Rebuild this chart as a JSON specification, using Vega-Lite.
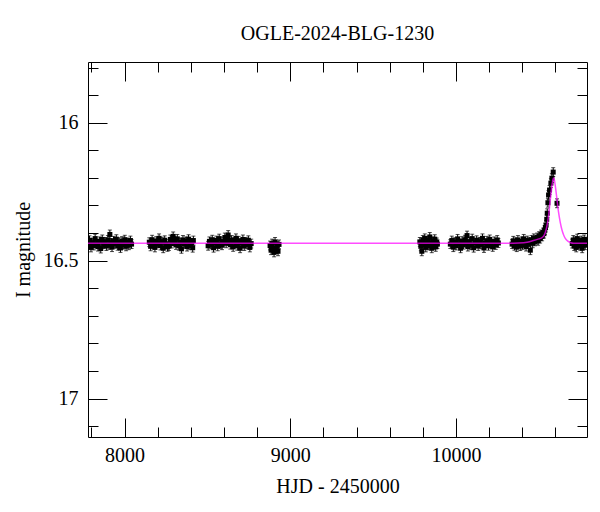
{
  "$schema": "https://vega.github.io/schema/vega-lite/v6.json",
  "autosize": {"type": "none"},
  "width": 499,
  "height": 375,
  "padding": {"left": 88, "top": 62, "right": 13, "bottom": 75},
  "background": "white",
  "title": {
    "text": "OGLE-2024-BLG-1230",
    "font": "Liberation Serif",
    "fontSize": 20,
    "fontWeight": "normal",
    "color": "black",
    "anchor": "middle",
    "baseline": "alphabetic",
    "offset": -2
  },
  "config": {
    "view": {"stroke": "black", "strokeWidth": 1},
    "axis": {
      "grid": false,
      "domain": false,
      "labelFont": "Liberation Serif",
      "labelFontSize": 20,
      "labelColor": "black",
      "titleFont": "Liberation Serif",
      "titleFontSize": 20,
      "titleFontWeight": "normal",
      "titleColor": "black",
      "tickColor": "black",
      "tickWidth": 1,
      "labelOverlap": false,
      "labelFlush": false,
      "labelBound": false
    }
  },
  "datasets": {
    "obs": [
      {"t": 7780, "m": 16.441, "e": 0.016}, {"t": 7788, "m": 16.426, "e": 0.016}, {"t": 7797, "m": 16.452, "e": 0.016},
      {"t": 7805, "m": 16.435, "e": 0.016}, {"t": 7814, "m": 16.445, "e": 0.016}, {"t": 7822, "m": 16.420, "e": 0.016},
      {"t": 7831, "m": 16.438, "e": 0.016}, {"t": 7839, "m": 16.449, "e": 0.016}, {"t": 7848, "m": 16.430, "e": 0.016},
      {"t": 7856, "m": 16.456, "e": 0.016}, {"t": 7865, "m": 16.423, "e": 0.016}, {"t": 7873, "m": 16.440, "e": 0.016},
      {"t": 7882, "m": 16.432, "e": 0.016}, {"t": 7890, "m": 16.447, "e": 0.016}, {"t": 7899, "m": 16.425, "e": 0.016},
      {"t": 7907, "m": 16.443, "e": 0.016}, {"t": 7911, "m": 16.405, "e": 0.016}, {"t": 7916, "m": 16.436, "e": 0.016},
      {"t": 7924, "m": 16.451, "e": 0.016}, {"t": 7933, "m": 16.428, "e": 0.016}, {"t": 7941, "m": 16.439, "e": 0.016},
      {"t": 7950, "m": 16.422, "e": 0.016}, {"t": 7958, "m": 16.446, "e": 0.016}, {"t": 7967, "m": 16.433, "e": 0.016},
      {"t": 7975, "m": 16.454, "e": 0.016}, {"t": 7984, "m": 16.429, "e": 0.016}, {"t": 7992, "m": 16.442, "e": 0.016},
      {"t": 8001, "m": 16.424, "e": 0.016}, {"t": 8009, "m": 16.448, "e": 0.016}, {"t": 8018, "m": 16.434, "e": 0.016},
      {"t": 8026, "m": 16.444, "e": 0.016}, {"t": 8035, "m": 16.427, "e": 0.016}, {"t": 8042, "m": 16.440, "e": 0.016},

      {"t": 8149, "m": 16.433, "e": 0.016}, {"t": 8157, "m": 16.448, "e": 0.016}, {"t": 8166, "m": 16.424, "e": 0.016},
      {"t": 8174, "m": 16.441, "e": 0.016}, {"t": 8183, "m": 16.452, "e": 0.016}, {"t": 8191, "m": 16.429, "e": 0.016},
      {"t": 8199, "m": 16.437, "e": 0.016}, {"t": 8208, "m": 16.419, "e": 0.016}, {"t": 8216, "m": 16.445, "e": 0.016},
      {"t": 8225, "m": 16.431, "e": 0.016}, {"t": 8233, "m": 16.455, "e": 0.016}, {"t": 8242, "m": 16.426, "e": 0.016},
      {"t": 8250, "m": 16.440, "e": 0.016}, {"t": 8259, "m": 16.450, "e": 0.016}, {"t": 8267, "m": 16.447, "e": 0.016},
      {"t": 8276, "m": 16.423, "e": 0.016}, {"t": 8284, "m": 16.438, "e": 0.016}, {"t": 8293, "m": 16.412, "e": 0.016},
      {"t": 8301, "m": 16.428, "e": 0.016}, {"t": 8310, "m": 16.443, "e": 0.016}, {"t": 8318, "m": 16.421, "e": 0.016},
      {"t": 8327, "m": 16.446, "e": 0.016}, {"t": 8335, "m": 16.434, "e": 0.016}, {"t": 8343, "m": 16.457, "e": 0.016},
      {"t": 8352, "m": 16.425, "e": 0.016}, {"t": 8360, "m": 16.439, "e": 0.016}, {"t": 8369, "m": 16.430, "e": 0.016},
      {"t": 8377, "m": 16.449, "e": 0.016}, {"t": 8386, "m": 16.422, "e": 0.016}, {"t": 8394, "m": 16.444, "e": 0.016},
      {"t": 8403, "m": 16.436, "e": 0.016}, {"t": 8411, "m": 16.453, "e": 0.016}, {"t": 8415, "m": 16.427, "e": 0.016},

      {"t": 8504, "m": 16.446, "e": 0.016}, {"t": 8512, "m": 16.430, "e": 0.016}, {"t": 8520, "m": 16.441, "e": 0.016},
      {"t": 8529, "m": 16.424, "e": 0.016}, {"t": 8537, "m": 16.453, "e": 0.016}, {"t": 8546, "m": 16.435, "e": 0.016},
      {"t": 8554, "m": 16.427, "e": 0.016}, {"t": 8562, "m": 16.448, "e": 0.016}, {"t": 8571, "m": 16.420, "e": 0.016},
      {"t": 8579, "m": 16.439, "e": 0.016}, {"t": 8588, "m": 16.444, "e": 0.016}, {"t": 8596, "m": 16.431, "e": 0.016},
      {"t": 8605, "m": 16.416, "e": 0.016}, {"t": 8613, "m": 16.437, "e": 0.016}, {"t": 8621, "m": 16.421, "e": 0.016},
      {"t": 8625, "m": 16.407, "e": 0.016}, {"t": 8630, "m": 16.429, "e": 0.016}, {"t": 8638, "m": 16.442, "e": 0.016},
      {"t": 8646, "m": 16.425, "e": 0.016}, {"t": 8655, "m": 16.450, "e": 0.016}, {"t": 8663, "m": 16.433, "e": 0.016},
      {"t": 8672, "m": 16.419, "e": 0.016}, {"t": 8680, "m": 16.446, "e": 0.016}, {"t": 8688, "m": 16.428, "e": 0.016},
      {"t": 8697, "m": 16.455, "e": 0.016}, {"t": 8705, "m": 16.436, "e": 0.016}, {"t": 8714, "m": 16.423, "e": 0.016},
      {"t": 8722, "m": 16.447, "e": 0.016}, {"t": 8730, "m": 16.432, "e": 0.016}, {"t": 8739, "m": 16.441, "e": 0.016},
      {"t": 8747, "m": 16.426, "e": 0.016}, {"t": 8756, "m": 16.452, "e": 0.016}, {"t": 8764, "m": 16.438, "e": 0.016},

      {"t": 8878, "m": 16.445, "e": 0.016}, {"t": 8884, "m": 16.462, "e": 0.016}, {"t": 8890, "m": 16.438, "e": 0.016},
      {"t": 8896, "m": 16.455, "e": 0.016}, {"t": 8902, "m": 16.470, "e": 0.016}, {"t": 8908, "m": 16.432, "e": 0.016},
      {"t": 8914, "m": 16.458, "e": 0.016}, {"t": 8920, "m": 16.447, "e": 0.016}, {"t": 8926, "m": 16.466, "e": 0.016},
      {"t": 8932, "m": 16.441, "e": 0.016},

      {"t": 9782, "m": 16.432, "e": 0.016}, {"t": 9788, "m": 16.448, "e": 0.016}, {"t": 9794, "m": 16.466, "e": 0.016},
      {"t": 9800, "m": 16.425, "e": 0.016}, {"t": 9806, "m": 16.441, "e": 0.016}, {"t": 9812, "m": 16.419, "e": 0.016},
      {"t": 9818, "m": 16.452, "e": 0.016}, {"t": 9824, "m": 16.436, "e": 0.016}, {"t": 9830, "m": 16.428, "e": 0.016},
      {"t": 9836, "m": 16.445, "e": 0.016}, {"t": 9842, "m": 16.414, "e": 0.016}, {"t": 9848, "m": 16.439, "e": 0.016},
      {"t": 9854, "m": 16.455, "e": 0.016}, {"t": 9860, "m": 16.430, "e": 0.016}, {"t": 9866, "m": 16.443, "e": 0.016},
      {"t": 9872, "m": 16.422, "e": 0.016}, {"t": 9878, "m": 16.450, "e": 0.016}, {"t": 9884, "m": 16.434, "e": 0.016},
      {"t": 9888, "m": 16.440, "e": 0.016},

      {"t": 9966, "m": 16.440, "e": 0.016}, {"t": 9975, "m": 16.427, "e": 0.016}, {"t": 9984, "m": 16.451, "e": 0.016},
      {"t": 9992, "m": 16.433, "e": 0.016}, {"t": 10001, "m": 16.445, "e": 0.016}, {"t": 10010, "m": 16.421, "e": 0.016},
      {"t": 10019, "m": 16.438, "e": 0.016}, {"t": 10028, "m": 16.455, "e": 0.016}, {"t": 10037, "m": 16.429, "e": 0.016},
      {"t": 10045, "m": 16.442, "e": 0.016}, {"t": 10054, "m": 16.424, "e": 0.016}, {"t": 10063, "m": 16.436, "e": 0.016},
      {"t": 10067, "m": 16.409, "e": 0.016}, {"t": 10072, "m": 16.449, "e": 0.016}, {"t": 10081, "m": 16.431, "e": 0.016},
      {"t": 10090, "m": 16.444, "e": 0.016}, {"t": 10098, "m": 16.420, "e": 0.016}, {"t": 10107, "m": 16.453, "e": 0.016},
      {"t": 10116, "m": 16.435, "e": 0.016}, {"t": 10125, "m": 16.426, "e": 0.016}, {"t": 10134, "m": 16.447, "e": 0.016},
      {"t": 10143, "m": 16.432, "e": 0.016}, {"t": 10151, "m": 16.441, "e": 0.016}, {"t": 10160, "m": 16.419, "e": 0.016},
      {"t": 10169, "m": 16.454, "e": 0.016}, {"t": 10178, "m": 16.437, "e": 0.016}, {"t": 10187, "m": 16.428, "e": 0.016},
      {"t": 10196, "m": 16.446, "e": 0.016}, {"t": 10204, "m": 16.423, "e": 0.016}, {"t": 10213, "m": 16.439, "e": 0.016},
      {"t": 10222, "m": 16.450, "e": 0.016}, {"t": 10231, "m": 16.430, "e": 0.016}, {"t": 10240, "m": 16.443, "e": 0.016},
      {"t": 10249, "m": 16.425, "e": 0.016}, {"t": 10256, "m": 16.436, "e": 0.016},

      {"t": 10339, "m": 16.440, "e": 0.016}, {"t": 10346, "m": 16.428, "e": 0.016}, {"t": 10353, "m": 16.446, "e": 0.016},
      {"t": 10360, "m": 16.433, "e": 0.016}, {"t": 10367, "m": 16.451, "e": 0.016}, {"t": 10374, "m": 16.425, "e": 0.016},
      {"t": 10381, "m": 16.438, "e": 0.016}, {"t": 10388, "m": 16.447, "e": 0.016}, {"t": 10395, "m": 16.430, "e": 0.016},
      {"t": 10402, "m": 16.443, "e": 0.016}, {"t": 10409, "m": 16.421, "e": 0.016}, {"t": 10416, "m": 16.436, "e": 0.016},
      {"t": 10423, "m": 16.449, "e": 0.016}, {"t": 10430, "m": 16.427, "e": 0.016}, {"t": 10436, "m": 16.440, "e": 0.016},
      {"t": 10443, "m": 16.432, "e": 0.016}, {"t": 10449, "m": 16.462, "e": 0.016}, {"t": 10456, "m": 16.425, "e": 0.016},
      {"t": 10463, "m": 16.437, "e": 0.016}, {"t": 10470, "m": 16.419, "e": 0.016}, {"t": 10477, "m": 16.430, "e": 0.016},
      {"t": 10484, "m": 16.424, "e": 0.016}, {"t": 10490, "m": 16.416, "e": 0.016}, {"t": 10496, "m": 16.428, "e": 0.016},
      {"t": 10502, "m": 16.411, "e": 0.016}, {"t": 10508, "m": 16.420, "e": 0.016}, {"t": 10514, "m": 16.405, "e": 0.016},
      {"t": 10520, "m": 16.412, "e": 0.016}, {"t": 10526, "m": 16.398, "e": 0.016}, {"t": 10531, "m": 16.402, "e": 0.016},
      {"t": 10536, "m": 16.389, "e": 0.016}, {"t": 10540, "m": 16.380, "e": 0.016}, {"t": 10544, "m": 16.371, "e": 0.016},
      {"t": 10548, "m": 16.350, "e": 0.016}, {"t": 10551, "m": 16.328, "e": 0.016}, {"t": 10555, "m": 16.290, "e": 0.016},
      {"t": 10559, "m": 16.262, "e": 0.016}, {"t": 10565, "m": 16.244, "e": 0.016}, {"t": 10573, "m": 16.219, "e": 0.016},
      {"t": 10579, "m": 16.201, "e": 0.016}, {"t": 10587, "m": 16.179, "e": 0.016}, {"t": 10610, "m": 16.292, "e": 0.016},

      {"t": 10702, "m": 16.438, "e": 0.016}, {"t": 10708, "m": 16.425, "e": 0.016}, {"t": 10714, "m": 16.447, "e": 0.016},
      {"t": 10720, "m": 16.430, "e": 0.016}, {"t": 10726, "m": 16.452, "e": 0.016}, {"t": 10732, "m": 16.420, "e": 0.016},
      {"t": 10738, "m": 16.441, "e": 0.016}, {"t": 10744, "m": 16.433, "e": 0.016}, {"t": 10750, "m": 16.446, "e": 0.016},
      {"t": 10756, "m": 16.427, "e": 0.016}, {"t": 10762, "m": 16.455, "e": 0.016}, {"t": 10768, "m": 16.436, "e": 0.016},
      {"t": 10774, "m": 16.423, "e": 0.016}, {"t": 10780, "m": 16.444, "e": 0.016}, {"t": 10788, "m": 16.431, "e": 0.016}
    ],
    "model": [
      {"t": 7779, "m": 16.437}, {"t": 10300, "m": 16.437}, {"t": 10380, "m": 16.436},
      {"t": 10430, "m": 16.433}, {"t": 10468, "m": 16.427}, {"t": 10500, "m": 16.421},
      {"t": 10515, "m": 16.418}, {"t": 10529, "m": 16.411}, {"t": 10540, "m": 16.397},
      {"t": 10549, "m": 16.375}, {"t": 10559, "m": 16.338}, {"t": 10569, "m": 16.282},
      {"t": 10579, "m": 16.230}, {"t": 10585, "m": 16.208}, {"t": 10589, "m": 16.200},
      {"t": 10593, "m": 16.205}, {"t": 10599, "m": 16.226}, {"t": 10609, "m": 16.274},
      {"t": 10619, "m": 16.323}, {"t": 10629, "m": 16.359}, {"t": 10640, "m": 16.389},
      {"t": 10650, "m": 16.407}, {"t": 10660, "m": 16.419}, {"t": 10675, "m": 16.429},
      {"t": 10690, "m": 16.434}, {"t": 10710, "m": 16.437}, {"t": 10791, "m": 16.437}
    ]
  },
  "layer": [
    {
      "data": {"name": "obs"},
      "mark": {"type": "errorbar", "color": "black", "ticks": {"size": 4, "color": "black"}, "clip": true},
      "encoding": {
        "x": {
          "field": "t", "type": "quantitative",
          "scale": {"domain": [7779, 10791], "nice": false, "zero": false},
          "axis": {
            "orient": "bottom",
            "values": [7800, 8000, 8200, 8400, 8600, 8800, 9000, 9200, 9400, 9600, 9800, 10000, 10200, 10400, 10600],
            "tickSize": {"condition": {"test": "datum.value % 1000 === 0", "value": -19}, "value": -10},
            "labelExpr": "datum.value % 1000 === 0 ? format(datum.value, 'd') : ''",
            "labelPadding": 27,
            "title": "HJD - 2450000",
            "titleY": 55,
            "titleBaseline": "alphabetic"
          }
        },
        "y": {
          "field": "m", "type": "quantitative",
          "scale": {"domain": [15.78, 17.139], "reverse": true, "nice": false, "zero": false},
          "axis": {
            "orient": "left",
            "values": [15.8, 15.9, 16, 16.1, 16.2, 16.3, 16.4, 16.5, 16.6, 16.7, 16.8, 16.9, 17, 17.1],
            "tickSize": {"condition": {"test": "abs(datum.value * 2 - round(datum.value * 2)) < 0.001", "value": -19}, "value": -10},
            "labelExpr": "abs(datum.value * 2 - round(datum.value * 2)) < 0.001 ? format(datum.value, '~g') : ''",
            "labelPadding": 29,
            "title": "I magnitude",
            "titleX": -59,
            "titleBaseline": "alphabetic"
          }
        },
        "yError": {"field": "e"}
      }
    },
    {
      "data": {"name": "obs"},
      "mark": {"type": "point", "shape": "square", "filled": true, "size": 25, "color": "black", "opacity": 1, "clip": true},
      "encoding": {
        "x": {"field": "t", "type": "quantitative", "scale": {"domain": [7779, 10791], "nice": false, "zero": false}, "axis": null},
        "y": {"field": "m", "type": "quantitative", "scale": {"domain": [15.78, 17.139], "reverse": true, "nice": false, "zero": false}, "axis": null}
      }
    },
    {
      "data": {"name": "model"},
      "mark": {"type": "line", "color": "#ff00ff", "strokeWidth": 1.5, "opacity": 0.7, "interpolate": "monotone", "clip": true},
      "encoding": {
        "x": {
          "field": "t", "type": "quantitative",
          "scale": {"domain": [7779, 10791], "nice": false, "zero": false},
          "axis": {
            "orient": "top",
            "values": [7800, 8000, 8200, 8400, 8600, 8800, 9000, 9200, 9400, 9600, 9800, 10000, 10200, 10400, 10600],
            "tickSize": {"condition": {"test": "datum.value % 1000 === 0", "value": -19}, "value": -10},
            "labels": false,
            "title": null
          }
        },
        "y": {
          "field": "m", "type": "quantitative",
          "scale": {"domain": [15.78, 17.139], "reverse": true, "nice": false, "zero": false},
          "axis": {
            "orient": "right",
            "values": [15.8, 15.9, 16, 16.1, 16.2, 16.3, 16.4, 16.5, 16.6, 16.7, 16.8, 16.9, 17, 17.1],
            "tickSize": {"condition": {"test": "abs(datum.value * 2 - round(datum.value * 2)) < 0.001", "value": -19}, "value": -10},
            "labels": false,
            "title": null
          }
        }
      }
    }
  ],
  "resolve": {"axis": {"x": "independent", "y": "independent"}}
}
